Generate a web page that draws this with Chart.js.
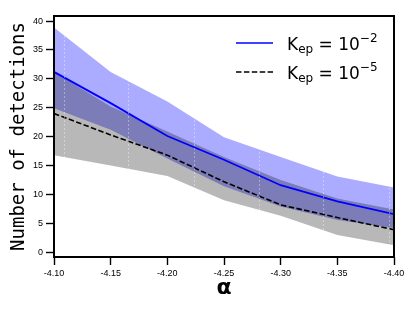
<!DOCTYPE html>
<html>
<head>
<meta charset="utf-8">
<script src="https://cdn.jsdelivr.net/npm/chart.js@4"></script>
<style>
  html, body { margin: 0; padding: 0; background: #fff; }
  #wrap { width: 415px; height: 311px; }
</style>
</head>
<body>
<div id="wrap"><canvas id="detectionsChart" width="415" height="311"></canvas></div>
<script>
const alphas = [-4.10, -4.15, -4.20, -4.25, -4.30, -4.35, -4.40];

// K_ep = 10^-2 (blue)
const meanHigh = [31.2, 25.8, 20.1, 16.0, 11.6, 8.8, 6.6];
const upperHigh = [38.9, 31.2, 26.1, 19.9, 16.5, 13.1, 11.2];
const lowerHigh = [24.9, 21.2, 16.2, 11.4, 7.9, 5.6, 4.2];

// K_ep = 10^-5 (black / grey)
const meanLow = [24.0, 20.3, 16.8, 12.2, 8.2, 6.0, 3.9];
const upperLow = [31.2, 25.2, 20.9, 16.5, 12.5, 9.3, 7.4];
const lowerLow = [16.8, 15.0, 13.2, 9.0, 6.3, 3.0, 1.2];

const xTicks = [-4.10, -4.15, -4.20, -4.25, -4.30, -4.35, -4.40];
const yTicks = [0, 5, 10, 15, 20, 25, 30, 35, 40];
// faint white dashed guides seen over the bands
const guideAlphas = [-4.109, -4.166, -4.224, -4.281, -4.338, -4.396];

const pts = ys => ys.map((y, i) => ({ x: alphas[i], y }));

const tickFont = { family: "Liberation Sans", size: 9 };

// box around the plot + legend with sub/superscripts
const frameAndLegend = {
  id: "frameAndLegend",
  afterDraw(chart) {
    const { ctx, chartArea: a } = chart;
    ctx.save();
    ctx.strokeStyle = "#000";
    ctx.lineWidth = 2;
    ctx.setLineDash([]);
    ctx.strokeRect(a.left, a.top, a.right - a.left, a.bottom - a.top);

    const rows = [
      { color: "#0000ff", dash: [], exp: "\u22122", y: a.top + 27 },
      { color: "#000000", dash: [5.5, 2.4], exp: "\u22125", y: a.top + 56 }
    ];
    const x0 = a.right - 158, x1 = a.right - 121, tx = a.right - 107;
    rows.forEach(r => {
      ctx.beginPath();
      ctx.setLineDash(r.dash);
      ctx.strokeStyle = r.color;
      ctx.lineWidth = 1.6;
      ctx.moveTo(x0, r.y);
      ctx.lineTo(x1, r.y);
      ctx.stroke();
      ctx.setLineDash([]);

      const base = r.y + 6.6;
      let x = tx;
      ctx.fillStyle = "#000";
      ctx.textBaseline = "alphabetic";
      ctx.textAlign = "left";
      ctx.font = "17px 'DejaVu Sans'";
      ctx.fillText("K", x, base);
      x += ctx.measureText("K").width;
      ctx.font = "12px 'DejaVu Sans'";
      ctx.fillText("ep", x, base + 3.5);
      x += ctx.measureText("ep").width;
      ctx.font = "17px 'DejaVu Sans'";
      ctx.fillText(" = 10", x, base);
      x += ctx.measureText(" = 10").width;
      ctx.font = "12px 'DejaVu Sans'";
      ctx.fillText(r.exp, x, base - 7.3);
    });
    ctx.restore();
  }
};

new Chart(document.getElementById("detectionsChart").getContext("2d"), {
  type: "line",
  data: {
    datasets: [
      { label: "upperHigh", data: pts(upperHigh), fill: "+1", backgroundColor: "rgba(0,0,255,0.33)",
        borderWidth: 0, pointRadius: 0, order: 4 },
      { label: "lowerHigh", data: pts(lowerHigh), fill: false, borderWidth: 0, pointRadius: 0, order: 4 },
      { label: "upperLow", data: pts(upperLow), fill: "+1", backgroundColor: "rgba(0,0,0,0.28)",
        borderWidth: 0, pointRadius: 0, order: 3 },
      { label: "lowerLow", data: pts(lowerLow), fill: false, borderWidth: 0, pointRadius: 0, order: 3 },
      { label: "K_ep = 10^-2", data: pts(meanHigh), borderColor: "#0000ff", borderWidth: 1.8,
        pointRadius: 0, fill: false, order: 1 },
      { label: "K_ep = 10^-5", data: pts(meanLow), borderColor: "#000000", borderWidth: 1.6,
        borderDash: [5.5, 2.4], pointRadius: 0, fill: false, order: 0 }
    ]
  },
  options: {
    responsive: false,
    animation: false,
    layout: { padding: { left: 0, top: 16, right: 21, bottom: 0 } },
    plugins: {
      legend: { display: false },
      tooltip: { enabled: false }
    },
    elements: { line: { tension: 0 } },
    scales: {
      x: {
        type: "linear",
        reverse: true,
        min: -4.40,
        max: -4.10,
        afterBuildTicks: s => { s.ticks = xTicks.map(v => ({ value: v })); },
        afterFit: s => { s.height = 54; },
        ticks: { font: tickFont, color: "#000", padding: 3, maxRotation: 0,
                 callback: v => v.toFixed(2) },
        grid: { drawOnChartArea: false, tickLength: 8, tickColor: "#000", tickWidth: 1.4 },
        border: { display: false },
        title: { display: true, text: "\u03b1", color: "#000",
                 font: { family: "DejaVu Sans", size: 22, weight: "bold", lineHeight: 1 },
                 padding: { top: 0, bottom: 12 } }
      },
      guides: {
        type: "linear",
        axis: "x",
        position: "bottom",
        reverse: true,
        min: -4.40,
        max: -4.10,
        afterBuildTicks: s => { s.ticks = guideAlphas.map(v => ({ value: v })); },
        afterFit: s => { s.height = 0; },
        ticks: { display: false },
        grid: { z: 1, color: "rgba(255,255,255,0.45)", lineWidth: 0.8, drawTicks: false },
        border: { display: false, dash: [2, 2] }
      },
      y: {
        min: -0.82,
        max: 40.87,
        afterBuildTicks: s => { s.ticks = yTicks.map(v => ({ value: v })); },
        afterFit: s => { s.width = 54; },
        ticks: { font: tickFont, color: "#000", padding: 3 },
        grid: { drawOnChartArea: false, tickLength: 8, tickColor: "#000", tickWidth: 1.4 },
        border: { display: false },
        title: { display: true, text: "Number of detections", color: "#000",
                 font: { family: "DejaVu Sans Mono", size: 19, lineHeight: 1 },
                 padding: { top: 10, bottom: 0 } }
      }
    }
  },
  plugins: [frameAndLegend]
});
</script>
</body>
</html>
